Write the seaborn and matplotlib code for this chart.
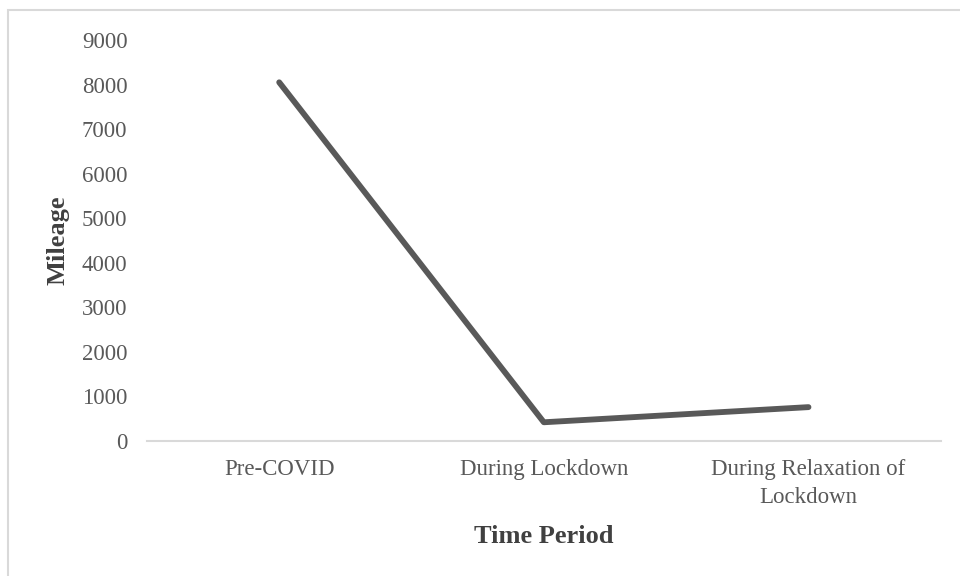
import matplotlib
matplotlib.use("Agg")
import matplotlib.pyplot as plt
import seaborn as sns
import pandas as pd
from matplotlib.patches import Rectangle

periods = ["Pre-COVID", "During Lockdown", "During Relaxation of\nLockdown"]
mileage = [8050, 420, 760]
y_ticks = [0, 1000, 2000, 3000, 4000, 5000, 6000, 7000, 8000, 9000]

df = pd.DataFrame({"period": periods, "mileage": mileage})

sns.set_theme(style="white")
plt.rcParams["font.family"] = ["Liberation Serif", "DejaVu Serif"]

fig = plt.figure(figsize=(9.6, 5.76), dpi=100)
ax = fig.add_axes([0.153, 0.2344, 0.827, 0.6962])

sns.lineplot(data=df, x="period", y="mileage", ax=ax, color="#595959",
             linewidth=4.2, solid_capstyle="round", sort=False)

ax.set_xlim(-0.5, 2.5)
ax.set_ylim(0, 9000)
ax.set_yticks(y_ticks)
ax.set_yticklabels([str(v) for v in y_ticks])

for side in ["top", "right", "left"]:
    ax.spines[side].set_visible(False)
ax.spines["bottom"].set_color("#d9d9d9")
ax.spines["bottom"].set_linewidth(1.5)

ax.tick_params(axis="both", length=0, colors="#595959", labelsize=16.5)
ax.tick_params(axis="y", pad=14)
ax.tick_params(axis="x", pad=13)
for lbl in ax.get_xticklabels():
    lbl.set_linespacing(1.45)

ax.set_xlabel("Time Period", fontsize=19, fontweight="bold", color="#404040",
              labelpad=12)
ax.set_ylabel("Mileage", fontsize=19, fontweight="bold", color="#404040",
              labelpad=9)

# chart-area border
fig.patches.append(Rectangle((8 / 960, -0.1), 1.2, 1 - 10 / 576 + 0.1,
                             transform=fig.transFigure, fill=False,
                             edgecolor="#d9d9d9", linewidth=1.5))

fig.savefig("out.png", dpi=100)
